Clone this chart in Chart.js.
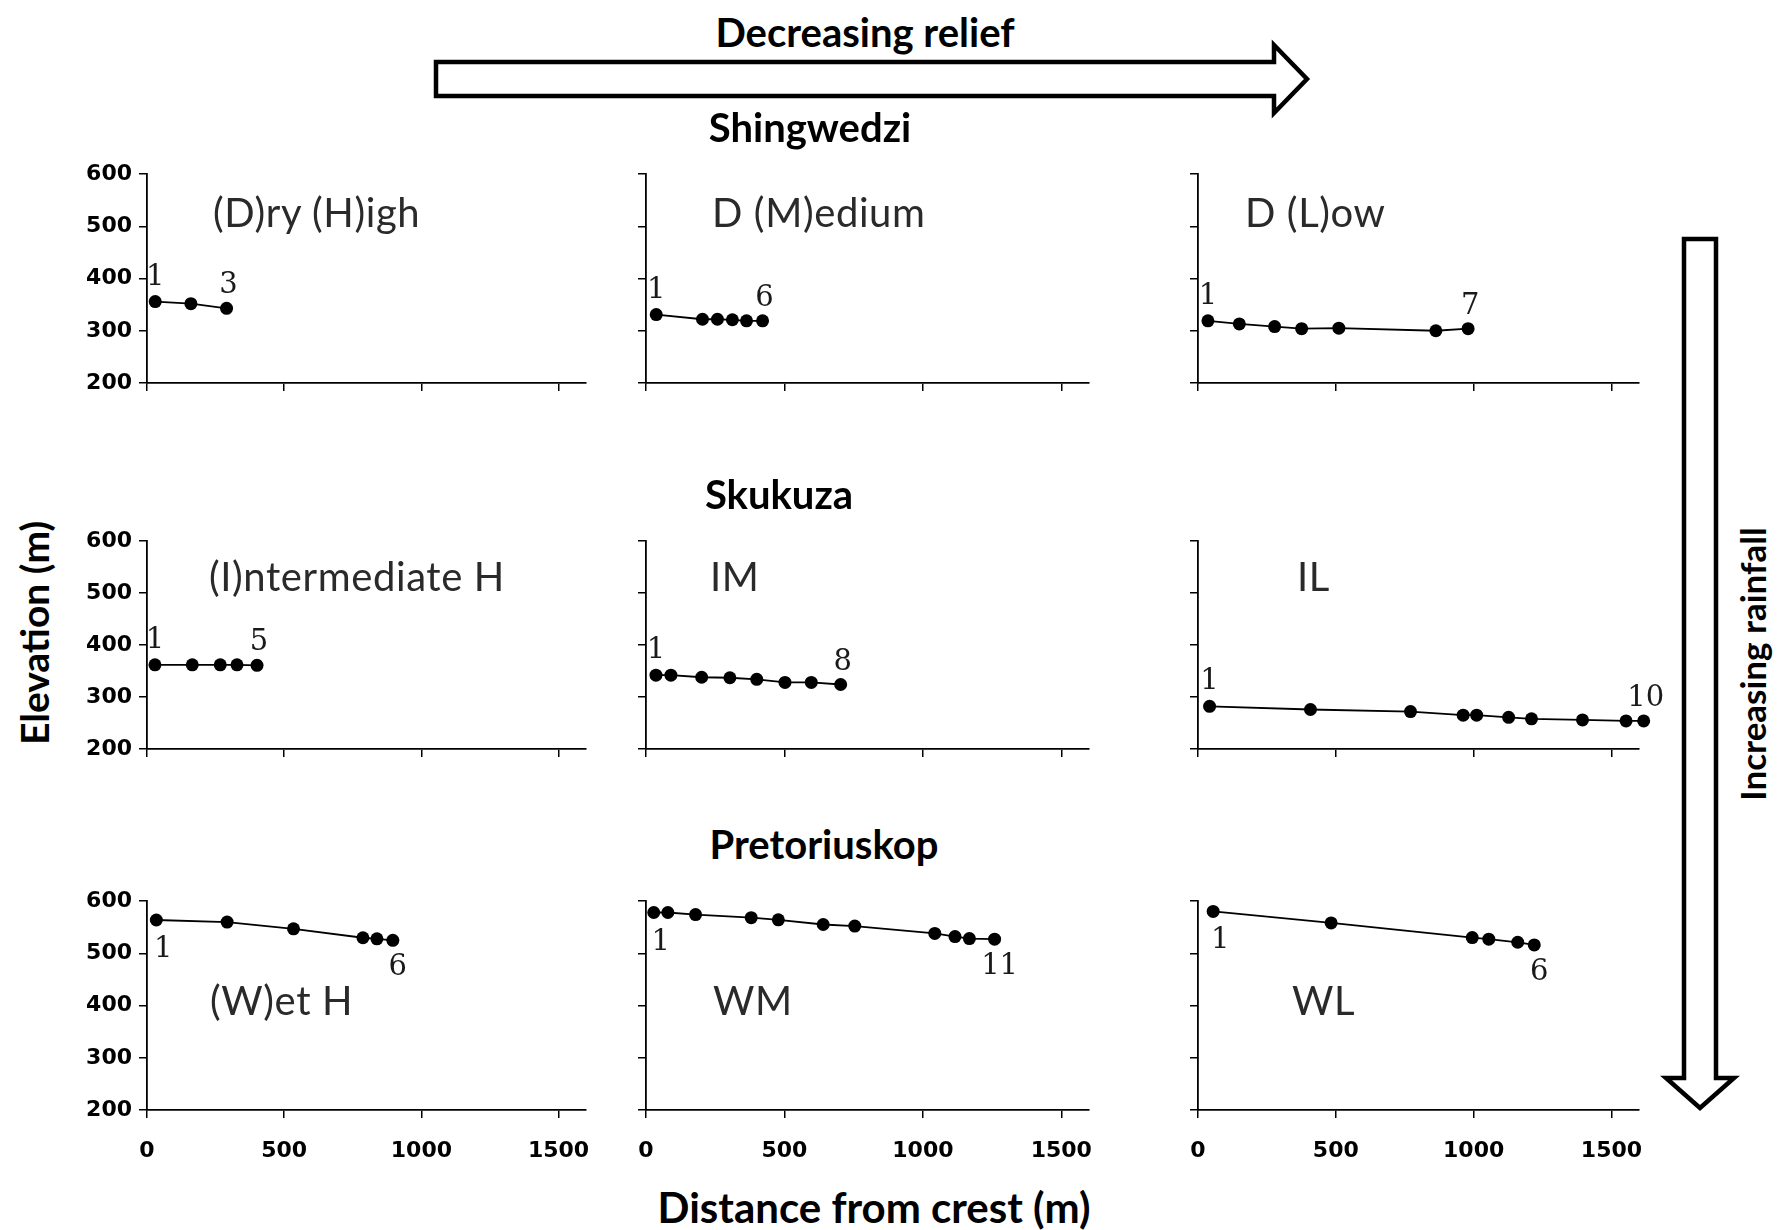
<!DOCTYPE html>
<html>
<head>
<meta charset="utf-8">
<script src="https://cdn.jsdelivr.net/npm/chart.js@4.4.1/dist/chart.umd.min.js"></script>
<style>
  body { margin: 0; background: #fff; }
  #page { position: relative; width: 1777px; height: 1230px; overflow: hidden; background: #fff; }
  canvas { position: absolute; }
  .txt { position: absolute; white-space: nowrap; line-height: 1; font-family: Lato, "Open Sans", sans-serif; color: #000; }
  svg { position: absolute; left: 0; top: 0; }
</style>
</head>
<body>
<div id="page"></div>
<script>
// Axis ticks shared by all nine panels
const xTicks = [0, 500, 1000, 1500];
const yTicks = [200, 300, 400, 500, 600];

// Distance from crest (m) and elevation (m) of each sample point, per catena
const dhDist = [30, 160, 290];
const dhElev = [356, 352, 343];
const dmDist = [37, 204, 258, 312, 363, 421];
const dmElev = [331, 322, 322, 321, 319, 319];
const dlDist = [36, 150, 278, 376, 511, 863, 980];
const dlElev = [319, 313, 308, 304, 305, 300, 304];

const ihDist = [29, 165, 267, 328, 401];
const ihElev = [362, 362, 362, 362, 361];
const imDist = [36, 90, 201, 303, 400, 502, 597, 703];
const imElev = [342, 342, 338, 337, 334, 328, 328, 324];
const ilDist = [42, 408, 771, 962, 1011, 1127, 1210, 1395, 1553, 1617];
const ilElev = [282, 276, 272, 265, 265, 261, 258, 256, 254, 254];

const whDist = [34, 292, 534, 787, 838, 896];
const whElev = [564, 560, 547, 530, 528, 525];
const wmDist = [28, 79, 179, 380, 478, 640, 754, 1043, 1116, 1168, 1259];
const wmElev = [578, 578, 574, 568, 564, 555, 552, 538, 532, 528, 527];
const wlDist = [55, 483, 995, 1055, 1160, 1220];
const wlElev = [580, 558, 530, 527, 521, 516];

const panelNames = [
    ['(D)ry (H)igh', 'D (M)edium', 'D (L)ow'],
    ['(I)ntermediate H', 'IM', 'IL'],
    ['(W)et H', 'WM', 'WL']
];
const panelDist = [[dhDist, dmDist, dlDist], [ihDist, imDist, ilDist], [whDist, wmDist, wlDist]];
const panelElev = [[dhElev, dmElev, dlElev], [ihElev, imElev, ilElev], [whElev, wmElev, wlElev]];

// layout (pixels)
const colX0 = [147, 646, 1198];
const plotW = [439, 443, 441];
const rowTop = [174, 541, 901];
const plotH = [209, 208, 209];
const nameX = [[213, 712, 1245], [209, 710, 1297], [210, 713, 1292]];
const nameY = [212, 576, 1000];
const AXIS_W = 80, AXIS_H = 60, PAD_T = 20, PAD_R = 45;

const page = document.getElementById('page');

// draws "1" at the first point and the point count at the last one
const pointNumbers = {
    id: 'pointNumbers',
    afterDatasetsDraw(chart, args, opts) {
        const pts = chart.getDatasetMeta(0).data;
        if (!pts.length) return;
        const ctx = chart.ctx;
        const first = pts[0], last = pts[pts.length - 1];
        ctx.save();
        ctx.font = '29px "DejaVu Serif", serif';
        ctx.fillStyle = '#1a1a1a';
        ctx.textAlign = 'center';
        if (opts.below) {
            ctx.textBaseline = 'top';
            ctx.fillText('1', first.x + 7, first.y + 15);
            ctx.fillText(String(pts.length), last.x + 5, last.y + 13);
        } else {
            ctx.textBaseline = 'alphabetic';
            ctx.fillText('1', first.x, first.y - 17);
            ctx.fillText(String(pts.length), last.x + 2, last.y - 15);
        }
        ctx.restore();
    }
};

function axisStyle(showLabels, padding) {
    return {
        grid: { display: true, drawOnChartArea: false, drawTicks: true, tickLength: 8, color: '#000', lineWidth: 1.5 },
        border: { display: true, color: '#000', width: 1.8 },
        ticks: {
            display: showLabels,
            color: '#000',
            padding: padding,
            maxRotation: 0,
            autoSkip: false,
            callback: v => String(v),
            font: { family: '"DejaVu Sans", Arial, sans-serif', size: 22, weight: 'bold' }
        }
    };
}

function makePanel(r, c) {
    const canvas = document.createElement('canvas');
    const w = AXIS_W + plotW[c] + PAD_R;
    const h = PAD_T + plotH[r] + AXIS_H;
    canvas.width = w;
    canvas.height = h;
    canvas.style.left = (colX0[c] - AXIS_W) + 'px';
    canvas.style.top = (rowTop[r] - PAD_T) + 'px';
    canvas.style.width = w + 'px';
    canvas.style.height = h + 'px';
    page.appendChild(canvas);

    const dist = panelDist[r][c];
    const elev = panelElev[r][c];

    new Chart(canvas, {
        type: 'scatter',
        data: {
            datasets: [{
                data: dist.map((d, i) => ({ x: d, y: elev[i] })),
                showLine: true,
                borderColor: '#000',
                borderWidth: 1.8,
                pointRadius: 6.5,
                pointBackgroundColor: '#000',
                pointBorderWidth: 0,
                clip: false
            }]
        },
        options: {
            responsive: false,
            animation: false,
            events: [],
            layout: { padding: { top: PAD_T, right: PAD_R, left: 0, bottom: 0 }, autoPadding: false },
            plugins: {
                legend: { display: false },
                tooltip: { enabled: false },
                pointNumbers: { below: r === 2 }
            },
            scales: {
                x: Object.assign(axisStyle(r === 2, 20), {
                    type: 'linear', min: 0, max: 1600,
                    afterBuildTicks: s => { s.ticks = xTicks.map(v => ({ value: v })); },
                    afterFit: s => { s.height = AXIS_H; }
                }),
                y: Object.assign(axisStyle(c === 0, 7), {
                    type: 'linear', min: 200, max: 600,
                    afterBuildTicks: s => { s.ticks = yTicks.map(v => ({ value: v })); },
                    afterFit: s => { s.width = AXIS_W; }
                })
            }
        },
        plugins: [pointNumbers]
    });

    addText(panelNames[r][c], nameX[r][c], nameY[r], 40, 400, 'left', 0, '#2a2a2a', 0.6);
}

function addText(text, x, y, size, weight, align, rot, color, spacing) {
    const d = document.createElement('div');
    d.className = 'txt';
    d.textContent = text;
    d.style.left = x + 'px';
    d.style.top = y + 'px';
    d.style.fontSize = size + 'px';
    d.style.fontWeight = weight;
    d.style.color = color || '#000';
    if (spacing) d.style.letterSpacing = spacing + 'px';
    const tx = align === 'left' ? '0' : '-50%';
    d.style.transform = `translate(${tx}, -50%)` + (rot ? ` rotate(${rot}deg)` : '');
    page.appendChild(d);
}

for (let r = 0; r < 3; r++) {
    for (let c = 0; c < 3; c++) makePanel(r, c);
}

// headings and axis titles
addText('Decreasing relief', 865, 32, 40, 700, 'center');
addText('Shingwedzi', 810, 127, 40, 700, 'center');
addText('Skukuza', 779, 494, 40, 700, 'center');
addText('Pretoriuskop', 824, 844, 40, 700, 'center');
addText('Distance from crest (m)', 874, 1207, 42, 700, 'center');
addText('Elevation (m)', 34, 633, 39, 700, 'center', -90);
addText('Increasing rainfall', 1752, 664, 35, 700, 'center', -90);

// block arrows
const svgNS = 'http://www.w3.org/2000/svg';
const svg = document.createElementNS(svgNS, 'svg');
svg.setAttribute('width', 1777);
svg.setAttribute('height', 1230);
const arrows = [
    '436,62 1274,62 1274,45 1307,79 1274,113 1274,96 436,96',
    '1684,239 1716,239 1716,1078 1734,1078 1700,1108 1666,1078 1684,1078'
];
arrows.forEach(pts => {
    const p = document.createElementNS(svgNS, 'polygon');
    p.setAttribute('points', pts);
    p.setAttribute('fill', '#fff');
    p.setAttribute('stroke', '#000');
    p.setAttribute('stroke-width', 4.5);
    p.setAttribute('stroke-linejoin', 'miter');
    svg.appendChild(p);
});
page.appendChild(svg);
</script>
</body>
</html>
